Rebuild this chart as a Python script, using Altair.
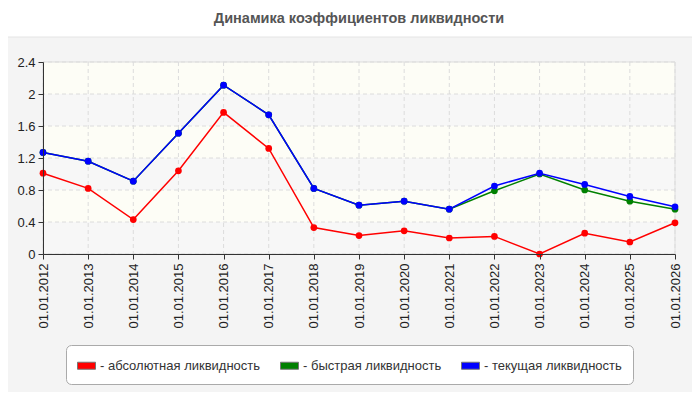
import altair as alt
import pandas as pd

dates = [
    "01.01.2012", "01.01.2013", "01.01.2014", "01.01.2015", "01.01.2016",
    "01.01.2017", "01.01.2018", "01.01.2019", "01.01.2020", "01.01.2021",
    "01.01.2022", "01.01.2023", "01.01.2024", "01.01.2025", "01.01.2026",
]
absolute = [1.01, 0.82, 0.43, 1.04, 1.77, 1.32, 0.33, 0.23, 0.29, 0.20, 0.22, 0.00, 0.26, 0.15, 0.39]
quick = [1.27, 1.16, 0.91, 1.51, 2.11, 1.74, 0.82, 0.61, 0.66, 0.56, 0.79, 1.00, 0.80, 0.66, 0.56]
current = [1.27, 1.16, 0.91, 1.51, 2.11, 1.74, 0.82, 0.61, 0.66, 0.56, 0.85, 1.01, 0.87, 0.72, 0.59]

names = ["абсолютная ликвидность", "быстрая ликвидность", "текущая ликвидность"]
colors = ["#ff0000", "#008000", "#0000ff"]

y_ticks = [0, 0.4, 0.8, 1.2, 1.6, 2.0, 2.4]
band_light = [2.0, 1.2, 0.4]
band_grey = [1.6, 0.8, 0.0]
band_step = 0.4

W, H = 632, 192
FONT = "Liberation Sans"

rows = []
for name, values in zip(names, [absolute, quick, current]):
    for d, v in zip(dates, values):
        rows.append({"date": d, "series": name, "value": v})
df = pd.DataFrame(rows)

yscale = alt.Scale(domain=[0, 2.4], nice=False)
xscale = alt.Scale(type="point", padding=0)

x_axis = alt.Axis(
    labelAngle=270,
    labelAlign="right",
    labelBaseline="middle",
    labelFontSize=13,
    labelFont=FONT,
    labelColor="#222",
    labelPadding=4,
    domainColor="#333",
    tickColor="#333",
    tickSize=5,
    grid=False,
    zindex=1,
)
y_axis = alt.Axis(
    values=y_ticks,
    format="~g",
    labelFontSize=13,
    labelFont=FONT,
    labelColor="#222",
    labelPadding=3,
    domainColor="#333",
    tickColor="#333",
    tickSize=5,
    grid=False,
    zindex=1,
)
legend = alt.Legend(
    title=None,
    orient="none",
    legendX=23,
    legendY=283,
    direction="horizontal",
    symbolType="M-1,-0.39H1V0.39H-1Z",
    symbolSize=324,
    symbolStrokeColor="#777777",
    symbolStrokeWidth=1,
    symbolOpacity=1,
    labelExpr="'- ' + datum.label",
    labelFontSize=13,
    labelFont=FONT,
    labelColor="#333",
    labelLimit=400,
    labelOffset=4,
    columnPadding=17,
    padding=11,
    strokeColor="#aaaaaa",
    fillColor="white",
    cornerRadius=5,
)

one = pd.DataFrame({"a": [0]})

panel = alt.Chart(one).mark_rect(
    fill="#f4f4f4", stroke="#e4e4e4", cornerRadius=6
).encode(
    x=alt.value(-42), x2=alt.value(654), y=alt.value(-25), y2=alt.value(335)
)


def bands(lows, fill):
    bdf = pd.DataFrame({"lo": lows})
    return (
        alt.Chart(bdf)
        .transform_calculate(hi=f"datum.lo + {band_step}")
        .mark_rect(fill=fill)
        .encode(
            x=alt.value(0),
            x2=alt.value(W),
            y=alt.Y("lo:Q", scale=yscale, axis=y_axis, title=None),
            y2="hi:Q",
        )
    )


hgrid = alt.Chart(pd.DataFrame({"t": y_ticks})).mark_rule(
    color="#dcdcdc", strokeDash=[4, 3]
).encode(y=alt.Y("t:Q", scale=yscale, axis=y_axis, title=None))

vgrid = alt.Chart(pd.DataFrame({"date": dates})).mark_rule(
    color="#dcdcdc", strokeDash=[4, 3]
).encode(x=alt.X("date:O", sort=dates, scale=xscale, axis=x_axis, title=None))

frame = alt.Chart(one).mark_rect(fillOpacity=0, stroke="#dddddd").encode(
    x=alt.value(0), x2=alt.value(W), y=alt.value(0), y2=alt.value(H)
)

x_enc = alt.X("date:O", sort=dates, scale=xscale, title=None, axis=x_axis)
y_enc = alt.Y("value:Q", scale=yscale, title=None, axis=y_axis)

lines = alt.Chart(df).mark_line(strokeWidth=1.5).encode(
    x=x_enc,
    y=y_enc,
    stroke=alt.Stroke(
        "series:N", scale=alt.Scale(domain=names, range=colors), legend=None
    ),
)

points = alt.Chart(df).mark_circle(size=45, opacity=1).encode(
    x=x_enc,
    y=y_enc,
    color=alt.Color(
        "series:N", scale=alt.Scale(domain=names, range=colors), legend=legend
    ),
)

chart = (
    alt.layer(
        panel,
        bands(band_light, "#fdfdf6"),
        bands(band_grey, "#f7f7f7"),
        hgrid,
        vgrid,
        frame,
        lines,
        points,
    )
    .properties(
        width=W,
        height=H,
        title=alt.TitleParams(
            "Динамика коэффициентов ликвидности",
            anchor="middle",
            offset=10,
            fontSize=14.5,
            font=FONT,
            fontWeight="bold",
            color="#555555",
        ),
        autosize=alt.AutoSizeParams(type="none"),
        padding={"left": 35, "top": 54, "right": 17, "bottom": 138},
    )
    .resolve_scale(stroke="independent")
    .configure_view(stroke=None)
    .configure(background="white")
)

chart.save("out.html", embed_options={"renderer": "svg", "actions": False})
